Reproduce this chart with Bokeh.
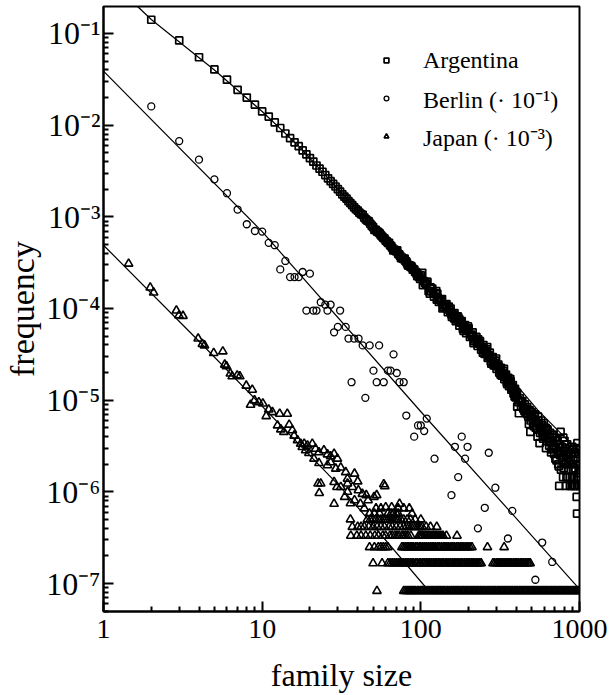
from bokeh.plotting import figure
from bokeh.models import Range1d, FixedTicker, CustomJSTickFormatter, Legend, LegendItem
from bokeh.embed import file_html
from bokeh.resources import INLINE

FONT = "Liberation Serif"

# ---------------- data ----------------
x_ticks = [1, 10, 100, 1000]
x_tick_labels = ["1", "10", "100", "1000"]
y_ticks = [1e-7, 1e-6, 1e-5, 1e-4, 1e-3, 1e-2, 1e-1]
y_tick_labels = ["10\u207b\u2077", "10\u207b\u2076", "10\u207b\u2075", "10\u207b\u2074",
                 "10\u207b\u00b3", "10\u207b\u00b2", "10\u207b\u00b9"]

series_labels = ["Argentina", "Berlin (\u00b7 10\u207b\u00b9)", "Japan (\u00b7 10\u207b\u00b3)"]

# Argentina: small sizes (individually readable squares)
argentina_small = [
    (2, 0.141), (3, 0.084), (4, 0.055), (5, 0.0405), (6, 0.0313), (7, 0.0243), (8, 0.0200), (9, 0.0167), (10, 0.0141),
    (11, 0.0124), (12, 0.0107), (13, 0.0093), (14, 0.0081), (15, 0.0072), (16, 0.0065), (17, 0.0059), (18, 0.0053),
    (19, 0.0048), (20, 0.00437), (21, 0.0040), (22, 0.00363), (23, 0.00335), (24, 0.0031), (25, 0.00285), (26, 0.00263),
    (27, 0.00245), (28, 0.00229), (29, 0.00214), (30, 0.0020), (31, 0.00188), (32, 0.00176), (33, 0.00166), (34, 0.00158),
    (35, 0.00148), (36, 0.00141), (37, 0.00134), (38, 0.00127), (39, 0.00121), (40, 0.00117),
]
# Argentina: dense band, sizes 41..99
argentina_band1 = [
    (41, 1.11e-3), (42, 1.07e-3), (43, 1.05e-3), (44, 9.8e-4), (45, 9.4e-4), (46, 9.1e-4), (47, 8.9e-4), (48, 8.4e-4),
    (49, 8.0e-4), (50, 7.7e-4), (51, 7.2e-4), (52, 7.2e-4), (53, 6.9e-4), (54, 6.8e-4), (55, 6.6e-4), (56, 6.3e-4),
    (57, 6.1e-4), (58, 5.9e-4), (59, 5.8e-4), (60, 5.5e-4), (61, 5.4e-4), (62, 5.2e-4), (63, 5.2e-4), (64, 4.9e-4),
    (65, 4.8e-4), (66, 4.6e-4), (67, 4.3e-4), (68, 4.4e-4), (69, 4.3e-4), (70, 4.2e-4), (71, 4.3e-4), (72, 3.95e-4),
    (73, 3.9e-4), (74, 3.75e-4), (75, 3.55e-4), (76, 3.6e-4), (77, 3.5e-4), (78, 3.45e-4), (79, 3.5e-4), (80, 3.3e-4),
    (81, 3.25e-4), (82, 3.1e-4), (83, 2.95e-4), (84, 2.95e-4), (85, 2.95e-4), (86, 2.85e-4), (87, 2.9e-4), (88, 2.8e-4),
    (89, 2.65e-4), (90, 2.65e-4), (91, 2.65e-4), (92, 2.5e-4), (93, 2.5e-4), (94, 2.4e-4), (95, 2.25e-4), (96, 2.35e-4),
    (97, 2.25e-4), (98, 2.2e-4), (99, 2.1e-4),
]
# Argentina: dense band, sizes 100..400
argentina_band2 = [
    (100, 2.3e-4), (103, 1.8e-4), (106, 1.9e-4), (109, 1.95e-4), (112, 1.55e-4), (115, 1.7e-4), (118, 1.65e-4),
    (121, 1.35e-4), (124, 1.45e-4), (127, 1.45e-4), (130, 1.18e-4), (133, 1.25e-4), (136, 1.27e-4), (139, 1.03e-4),
    (142, 1.1e-4), (145, 1.12e-4), (148, 9.1e-5), (151, 9.7e-5), (154, 1.0e-4), (157, 8.1e-5), (160, 8.6e-5),
    (163, 8.9e-5), (166, 7.3e-5), (169, 7.7e-5), (172, 8.0e-5), (175, 6.5e-5), (178, 7.0e-5), (181, 7.3e-5),
    (184, 6.0e-5), (187, 6.3e-5), (190, 6.6e-5), (193, 5.4e-5), (196, 5.8e-5), (199, 6.0e-5),
    (104, 2.0e-4), (108, 1.85e-4), (110, 1.95e-4), (116, 1.55e-4), (120, 1.48e-4), (126, 1.25e-4), (128, 1.30e-4),
    (135, 1.2e-4), (138, 1.10e-4), (143, 1.05e-4), (146, 1.0e-4), (153, 9.2e-5), (156, 8.6e-5), (159, 8.5e-5),
    (165, 8.0e-5), (168, 7.6e-5), (171, 8.2e-5), (177, 7.2e-5), (180, 7.0e-5), (190, 6.0e-5), (194, 5.8e-5),
    (200, 6.1e-5), (204, 4.9e-5), (208, 5.2e-5), (212, 5.5e-5), (216, 4.4e-5), (220, 4.7e-5), (224, 4.9e-5),
    (228, 3.9e-5), (232, 4.2e-5), (236, 4.4e-5), (240, 3.55e-5), (244, 3.8e-5), (248, 4.0e-5), (252, 3.2e-5),
    (256, 3.45e-5), (260, 3.6e-5), (264, 2.9e-5), (268, 3.1e-5), (272, 3.3e-5), (276, 2.65e-5), (280, 2.85e-5),
    (284, 2.95e-5), (288, 2.4e-5), (292, 2.55e-5), (296, 2.7e-5), (300, 2.2e-5), (304, 2.35e-5), (308, 2.45e-5),
    (312, 2.0e-5), (316, 2.15e-5), (320, 2.25e-5), (324, 1.85e-5), (328, 1.98e-5), (332, 2.08e-5), (336, 1.7e-5),
    (340, 1.82e-5), (344, 1.9e-5), (348, 1.56e-5), (352, 1.66e-5), (356, 1.75e-5), (360, 1.42e-5), (364, 1.52e-5),
    (368, 1.6e-5), (372, 1.3e-5), (376, 1.38e-5), (380, 1.46e-5), (384, 1.18e-5), (388, 1.26e-5), (392, 1.33e-5),
    (396, 1.07e-5), (400, 1.15e-5),
    (211, 5.0e-5), (218, 4.6e-5), (226, 4.3e-5), (234, 4.1e-5), (242, 3.8e-5), (250, 3.6e-5), (258, 3.3e-5),
    (267, 3.0e-5), (285, 2.6e-5), (295, 2.4e-5), (310, 2.3e-5), (326, 1.9e-5), (337, 1.8e-5), (355, 1.6e-5),
    (372, 1.35e-5), (385, 1.25e-5),
    (102, 2.45e-4), (114, 1.45e-4), (125, 1.55e-4), (137, 1.0e-4), (150, 1.05e-4), (162, 7.8e-5), (175, 7.6e-5),
    (186, 5.7e-5), (198, 6.4e-5), (215, 4.2e-5), (230, 4.6e-5), (246, 3.3e-5), (262, 3.8e-5), (278, 2.5e-5),
    (298, 2.85e-5), (318, 1.9e-5), (334, 2.2e-5), (350, 1.5e-5), (366, 1.7e-5), (390, 1.1e-5),
]
# Argentina: widening tail, sizes 400..1000
argentina_tail = [
    (404, 1.2e-5), (405, 8.5e-6), (410, 1.0e-5), (412, 9.5e-6), (415, 7.2e-6), (420, 1.05e-5), (428, 8.6e-6),
    (430, 9.5e-6), (436, 9.8e-6), (440, 8.3e-6), (444, 8.0e-6), (450, 7.6e-6), (452, 9.0e-6), (460, 7.2e-6),
    (465, 8.0e-6), (468, 8.4e-6), (470, 7.0e-6), (476, 6.6e-6), (480, 5.5e-6), (484, 7.8e-6), (488, 7.5e-6),
    (490, 4.5e-6), (492, 6.0e-6), (500, 7.4e-6), (504, 6.5e-6), (508, 6.2e-6), (510, 5.6e-6), (516, 5.2e-6),
    (520, 6.8e-6), (524, 7.0e-6), (530, 5.0e-6), (532, 5.8e-6), (540, 4.9e-6), (544, 4.0e-6), (548, 6.6e-6),
    (550, 6.0e-6), (556, 5.4e-6), (560, 3.4e-6), (564, 4.4e-6), (570, 4.8e-6), (572, 6.0e-6), (580, 4.6e-6),
    (584, 5.3e-6), (588, 4.0e-6), (590, 3.8e-6), (596, 5.6e-6), (600, 4.4e-6), (604, 4.2e-6), (612, 5.0e-6),
    (615, 3.0e-6), (620, 3.6e-6), (628, 4.8e-6), (630, 4.6e-6), (636, 3.9e-6), (644, 3.2e-6), (645, 3.5e-6),
    (652, 4.4e-6), (660, 3.6e-6), (662, 2.7e-6), (668, 2.9e-6), (675, 4.0e-6), (676, 4.2e-6), (684, 3.4e-6),
    (690, 3.1e-6), (692, 2.6e-6), (700, 3.9e-6), (705, 2.3e-6), (708, 3.0e-6), (716, 2.2e-6), (720, 3.6e-6),
    (724, 3.7e-6), (732, 2.7e-6), (735, 2.0e-6), (740, 1.9e-6), (745, 1.16e-6), (748, 3.3e-6), (750, 2.8e-6),
    (756, 2.5e-6), (760, 4.5e-6), (764, 1.75e-6), (772, 3.1e-6), (780, 2.2e-6), (784, 2.4e-6), (788, 1.45e-6),
    (790, 3.9e-6), (795, 1.8e-6), (796, 2.8e-6), (804, 3.6e-6), (810, 3.0e-6), (812, 2.0e-6), (820, 1.16e-6),
    (822, 2.6e-6), (825, 2.1e-6), (828, 1.45e-6), (836, 3.3e-6), (840, 1.45e-6), (844, 2.3e-6), (852, 1.75e-6),
    (855, 2.6e-6), (860, 2.9e-6), (868, 1.45e-6), (870, 1.16e-6), (876, 2.0e-6), (884, 2.6e-6), (885, 2.2e-6),
    (892, 1.16e-6), (900, 3.1e-6), (902, 1.45e-6), (908, 1.75e-6), (915, 2.9e-6), (916, 2.2e-6), (924, 1.45e-6),
    (925, 1.16e-6), (930, 1.8e-6), (932, 2.7e-6), (940, 1.16e-6), (945, 2.4e-6), (948, 2.0e-6), (956, 3.0e-6),
    (960, 8.8e-7), (964, 1.45e-6), (965, 5.8e-7), (970, 3.4e-6), (972, 2.3e-6), (975, 1.45e-6), (980, 1.16e-6),
    (985, 2.0e-6), (988, 1.75e-6), (990, 2.6e-6), (995, 1.6e-6), (996, 2.9e-6), (1000, 1.16e-6),
]

berlin = [
    (2, 0.016), (3, 6.7e-3), (4, 4.2e-3), (5, 2.56e-3), (6, 1.81e-3), (7, 1.2e-3), (8, 8.3e-4), (9, 7.0e-4), (10, 6.9e-4),
    (11, 5.2e-4), (12, 4.9e-4), (13, 2.67e-4), (14, 3.3e-4), (15, 2.2e-4), (16, 2.2e-4), (17, 2.2e-4), (18, 2.5e-4),
    (19, 9.5e-5), (20, 2.4e-4), (21, 9.5e-5), (22, 9.5e-5), (23.4, 1.17e-4), (25, 1.1e-4), (25.8, 9.5e-5), (27, 1.1e-4),
    (28.4, 5.5e-5), (30, 6.3e-5), (31, 9.5e-5), (33.6, 6.3e-5), (35, 4.7e-5), (38, 4.7e-5), (40.5, 4.7e-5),
    (43, 3.96e-5), (47.6, 3.96e-5), (54.6, 3.96e-5), (67.3, 3.16e-5), (50.3, 2.1e-5), (62, 2.1e-5), (64.5, 2.1e-5),
    (70.5, 1.98e-5), (36.6, 1.57e-5), (52.7, 1.57e-5), (58.4, 1.57e-5), (73.4, 1.57e-5), (78, 1.57e-5), (44.7, 1.06e-5),
    (81, 6.8e-6), (96, 5.3e-6), (100, 5.3e-6), (105, 4.6e-6), (109, 6.3e-6), (90.8, 4.0e-6), (164, 3.1e-6), (181, 4.0e-6),
    (197, 3.1e-6), (122, 2.3e-6), (190, 2.3e-6), (268, 2.67e-6), (172, 1.45e-6), (295, 1.11e-6), (156, 9.2e-7),
    (253, 6.7e-7), (377, 6.2e-7), (229, 4.0e-7), (354, 3.1e-7), (582, 2.8e-7), (673, 1.72e-7), (527, 1.1e-7),
]

japan_cloud = [
    (1.44, 3.08e-4), (1.97, 1.69e-4), (2.07, 1.49e-4), (2.88, 9.5e-5), (2.99, 8.4e-5), (3.17, 8.3e-5), (3.95, 4.7e-5),
    (4.2, 4.1e-5), (4.33, 3.96e-5), (4.95, 3.27e-5), (5.65, 3.4e-5), (5.81, 2.44e-5), (5.96, 2.34e-5), (6.3, 1.95e-5),
    (6.47, 1.82e-5), (6.96, 1.86e-5), (7.23, 1.82e-5), (7.94, 1.44e-5), (8.66, 1.3e-5), (8.45, 8.9e-6), (8.95, 9.95e-6),
    (9.53, 9.5e-6), (10.1, 9.2e-6), (10.6, 6.7e-6), (11.0, 7.9e-6), (11.6, 7.4e-6), (12.9, 7.1e-6), (14.4, 7.1e-6),
    (12.5, 5.3e-6), (13.1, 4.8e-6), (14.8, 5.4e-6), (13.7, 4.5e-6), (15.5, 4.7e-6), (15.9, 4.1e-6), (16.7, 3.65e-6),
    (17.5, 3.35e-6), (17.9, 3.08e-6), (18.8, 2.84e-6), (19.3, 3.2e-6), (20.7, 3.35e-6), (21.7, 2.95e-6), (22.8, 2.7e-6),
    (24.5, 2.84e-6), (25.8, 2.56e-6), (27.0, 2.44e-6), (28.4, 2.6e-6), (29.8, 2.3e-6), (21.2, 2.3e-6), (22.8, 2.06e-6),
    (25.8, 1.95e-6), (27.0, 2.1e-6), (29.1, 1.79e-6), (31.3, 1.84e-6), (33.6, 1.64e-6), (34.5, 1.39e-6), (23.4, 1.23e-6),
    (28.4, 1.28e-6), (31.3, 1.13e-6), (34.5, 1.23e-6), (18.4, 3.35e-6), (19.7, 2.65e-6),
    (22.9, 9.7e-7), (22.5, 1.23e-6), (28.4, 7.4e-7), (29.6, 1.13e-6), (33.1, 8.8e-7), (34.5, 1.0e-6), (37.1, 1.13e-6),
    (38.2, 1.58e-6), (40.4, 1.04e-6), (42.8, 9.5e-7), (45.3, 9.2e-7), (38.2, 8.1e-7), (41.6, 7.4e-7), (46.5, 8.1e-7),
    (50.7, 8.8e-7), (52.7, 9.2e-7), (58.4, 1.21e-6), (52.2, 6.6e-7), (60.1, 6.8e-7), (65.5, 6.8e-7), (73.4, 7.4e-7),
    (84.6, 6.6e-7), (59.3, 1.15e-6), (40, 1.3e-6), (36, 7.5e-7), (44, 6.6e-7), (56, 6.6e-7), (72, 6.6e-7), (78, 6.6e-7),
]

# Japan: quantised frequency rows (one family = 8.3e-8)
japan_row_levels = [8.3e-8, 1.66e-7, 2.49e-7, 3.32e-7, 4.15e-7, 5.0e-7, 5.8e-7]
japan_row_sizes = [
    [52.9, 78, 80, 82, 84, 86, 88, 90, 92, 95, 97, 100, 102, 105, 107, 110, 113, 116, 119, 122, 125, 128, 131, 134,
     138, 141, 145, 148, 152, 156, 160, 164, 168, 172, 176, 181, 185, 190, 195, 200, 205, 210, 215, 220, 226, 231,
     237, 243, 249, 255, 262, 268, 275, 282, 289, 296, 304, 311, 319, 327, 335, 344, 352, 361, 370, 379, 389, 398,
     408, 419, 429, 440, 451, 462, 474, 486, 498, 510, 523, 536, 550, 563, 578, 592, 607, 622, 638, 654, 670, 687,
     704, 722, 740, 758, 777, 797, 817, 837, 858, 880, 902, 924, 947, 971, 995, 1000],
    [50, 57, 62, 64, 66, 68, 70, 72, 74, 76, 78, 80, 82, 84, 86, 88, 90, 93, 95, 98, 100, 103, 105, 108, 111, 114,
     117, 120, 123, 126, 129, 132, 136, 139, 143, 146, 150, 154, 158, 162, 166, 170, 174, 179, 183, 188, 193, 198,
     203, 208, 213, 218, 224, 229, 235, 240, 285, 292, 300, 307, 315, 323, 331, 339, 348, 356, 365, 374, 384, 393,
     403, 413, 424, 434, 445, 456, 468, 479, 489],
    [47.5, 51, 54, 56, 58, 60, 62, 76, 78, 80, 82, 84, 86, 88, 90, 93, 95, 98, 100, 103, 106, 109, 112, 115, 118,
     121, 124, 128, 131, 135, 139, 142, 146, 150, 155, 159, 163, 168, 172, 177, 182, 187, 193, 198, 204, 210, 263, 335],
    [36.2, 39.5, 42, 45, 48, 51.3, 54, 57.6, 60, 63.8, 66, 68.6, 71, 73, 76, 78, 80.5, 83, 86.5, 97, 99, 101, 103,
     106, 108, 111, 113, 116, 119, 121, 124, 126, 129, 132, 135, 138, 145, 169],
    [37, 40, 42, 44, 47, 50, 53, 56, 59, 63, 66, 70, 74, 78, 81, 84, 87, 90, 93, 96, 99, 102, 108, 115, 126],
    [36, 46, 48, 50, 52, 54, 56, 58, 60, 62, 64, 66, 68, 70, 72, 75, 78, 82, 86, 92, 100],
    [47.5, 51, 55, 62, 65, 67, 70, 72, 88],
]

# fitted curves
arg_fit_x = [1.64, 2, 5, 10, 17, 40, 105, 251, 546, 800, 1000]
arg_fit_y = [0.197, 0.142, 0.040, 0.0141, 0.0059, 0.00117, 2.0e-4, 3.8e-5, 7.8e-6, 4.0e-6, 2.6e-6]
ber_fit_x = [1, 10, 116, 1000]
ber_fit_y = [0.0389, 6.9e-4, 5.6e-6, 8.7e-8]
jap_fit_x = [1, 4.1, 31.3, 111]
jap_fit_y = [4.9e-4, 4.2e-5, 1.12e-6, 8.5e-8]

# ---------------- assemble ----------------
argentina = argentina_small + argentina_band1 + argentina_band2 + argentina_tail
arg_x = [a for a, _ in argentina]
arg_y = [b for _, b in argentina]
ber_x = [a for a, _ in berlin]
ber_y = [b for _, b in berlin]
jap_x = [a for a, _ in japan_cloud]
jap_y = [b for _, b in japan_cloud]
for lev, sizes in zip(japan_row_levels, japan_row_sizes):
    jap_x += sizes
    jap_y += [lev] * len(sizes)

x_minor = [m * 10 ** k for k in range(0, 3) for m in range(2, 10)]
y_minor = [m * 10.0 ** k for k in range(-8, 0) for m in range(2, 10)]

p = figure(width=612, height=695, x_axis_type="log", y_axis_type="log",
           x_range=Range1d(1, 1000), y_range=Range1d(10 ** -7.305, 10 ** -0.706),
           output_backend="svg", toolbar_location=None,
           min_border_left=103, min_border_right=33, min_border_top=6, min_border_bottom=84)
p.grid.visible = False
p.outline_line_color = "black"
p.outline_line_width = 2
p.background_fill_color = "white"
p.border_fill_color = "white"

fmt_code = """
for (let i = 0; i < vals.length; i++) {
  if (Math.abs(Math.log10(tick) - Math.log10(vals[i])) < 1e-6) { return labels[i]; }
}
return '';
"""
p.xaxis.ticker = FixedTicker(ticks=x_ticks, minor_ticks=x_minor)
p.xaxis.formatter = CustomJSTickFormatter(args=dict(vals=x_ticks, labels=x_tick_labels), code=fmt_code)
p.yaxis.ticker = FixedTicker(ticks=y_ticks, minor_ticks=y_minor)
p.yaxis.formatter = CustomJSTickFormatter(args=dict(vals=y_ticks, labels=y_tick_labels), code=fmt_code)

for ax in (p.xaxis[0], p.yaxis[0]):
    ax.major_tick_in = 10
    ax.major_tick_out = 0
    ax.minor_tick_in = 5
    ax.minor_tick_out = 0
    ax.major_tick_line_width = 2
    ax.minor_tick_line_width = 2
    ax.axis_line_width = 2
    ax.major_label_text_font = FONT
    ax.major_label_text_color = "black"
    ax.axis_label_text_font = FONT
    ax.axis_label_text_font_style = "normal"
    ax.axis_label_text_color = "black"

p.xaxis.major_label_text_font_size = "28px"
p.yaxis.major_label_text_font_size = "32px"
p.xaxis.axis_label_text_font_size = "32px"
p.yaxis.axis_label_text_font_size = "34px"
p.xaxis.axis_label = "family size"
p.yaxis.axis_label = "frequency"
p.xaxis.major_label_standoff = 8
p.xaxis.axis_label_standoff = 16
p.yaxis.major_label_standoff = 3
p.yaxis.axis_label_standoff = 2

# fitted curves
p.line(arg_fit_x, arg_fit_y, line_color="black", line_width=1.2)
p.line(ber_fit_x, ber_fit_y, line_color="black", line_width=1.2)
p.line(jap_fit_x, jap_fit_y, line_color="black", line_width=1.2)

r_arg = p.scatter(arg_x, arg_y, marker="square", size=7, fill_color=None, line_color="black", line_width=1.7)
r_ber = p.scatter(ber_x, ber_y, marker="circle", size=7, fill_color=None, line_color="black", line_width=1.3)
r_jap = p.scatter(jap_x, jap_y, marker="triangle", size=8.5, fill_color=None, line_color="black", line_width=1.6)

legend = Legend(items=[LegendItem(label=series_labels[0], renderers=[r_arg]),
                       LegendItem(label=series_labels[1], renderers=[r_ber]),
                       LegendItem(label=series_labels[2], renderers=[r_jap])],
                location=(277, 456))
legend.border_line_color = None
legend.background_fill_alpha = 0
legend.label_text_font = FONT
legend.label_text_font_size = "24px"
legend.label_text_color = "black"
legend.glyph_width = 12
legend.glyph_height = 38
legend.label_height = 38
legend.label_standoff = 31
legend.spacing = 0
legend.padding = 0
legend.margin = 0
p.add_layout(legend)

open("out.html", "w").write(file_html(p, INLINE))
